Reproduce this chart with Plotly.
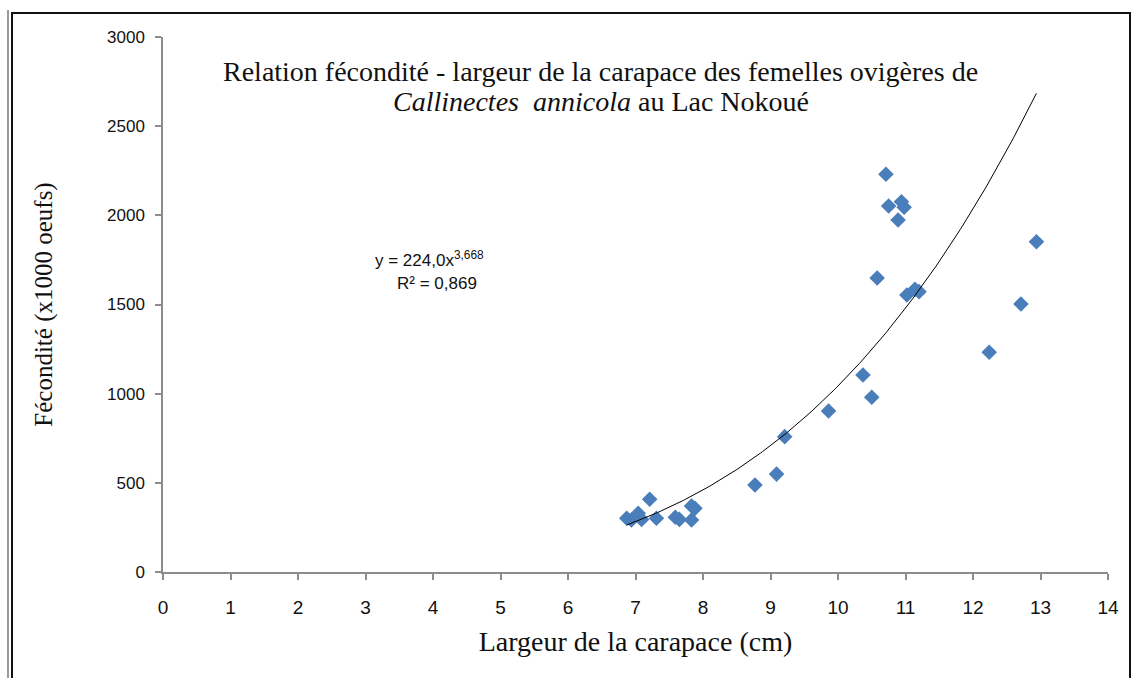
import numpy as np
import plotly.graph_objects as go

# Carapace width (cm) and fecundity (x1000 eggs) of ovigerous females
largeur = [6.87, 6.94, 7.04, 7.09, 7.21, 7.31, 7.59, 7.65, 7.83, 7.83, 7.88,
           8.77, 9.09, 9.21, 9.86, 10.37, 10.50,
           10.58, 10.71, 10.75, 10.89, 10.94, 10.98, 11.02, 11.14, 11.20,
           12.24, 12.71, 12.94]
fecondite = [301, 292, 329, 295, 408, 301, 307, 295, 292, 370, 357,
             488, 549, 759, 903, 1105, 980,
             1649, 2230, 2052, 1974, 2076, 2045, 1553, 1585, 1572,
             1232, 1503, 1852]

# Power trendline y = a * x^b (a in eggs, plotted in thousands of eggs)
coef_a = 224.0
expo_b = 3.668
r2 = 0.869
x_ticks = list(range(0, 15))
y_ticks = [0, 500, 1000, 1500, 2000, 2500, 3000]

xs = np.linspace(min(largeur), max(largeur), 200)
ys = coef_a * xs ** expo_b / 1000.0

SERIF = "Liberation Serif, Times New Roman, serif"
SANS = "Liberation Sans, Arial, sans-serif"
NARROW = "Liberation Sans Narrow, Liberation Sans, Arial, sans-serif"

fig = go.Figure()
fig.add_trace(go.Scatter(
    x=largeur, y=fecondite, mode="markers",
    marker=dict(symbol="diamond", size=12, color="#4A7EBB",
                line=dict(width=0)),
    showlegend=False, hoverinfo="x+y"))
fig.add_trace(go.Scatter(
    x=xs, y=ys, mode="lines", line=dict(color="#000000", width=1),
    showlegend=False, hoverinfo="skip"))

L, R, T, B = 163, 27, 37, 106
W, H = 1135, 678
pw, ph = W - L - R, H - T - B


def px(x):
    return (x - L) / pw


def py(y):
    return 1 - (y - T) / ph


eq_text = f"y = {coef_a:.1f}x<sup>{expo_b:.3f}</sup>".replace(".", ",")
r2_text = f"R² = {r2:.3f}".replace(".", ",")

fig.update_layout(
    width=W, height=H,
    margin=dict(l=L, r=R, t=T, b=B, pad=0),
    paper_bgcolor="white", plot_bgcolor="white",
    xaxis=dict(range=[0, 14], tickvals=x_ticks, showgrid=False,
               zeroline=False, showline=True, linecolor="#8C8C8C",
               linewidth=1.5, ticks="outside", ticklen=6,
               tickcolor="#8C8C8C", tickwidth=1.5,
               tickfont=dict(family=NARROW, size=19, color="#111111"),
               ticklabelstandoff=11,
               title=dict(text="Largeur de la carapace (cm)",
                          font=dict(family=SERIF, size=28, color="#111111"),
                          standoff=15)),
    yaxis=dict(range=[0, 3000], tickvals=y_ticks, showgrid=False,
               zeroline=False, showline=True, linecolor="#8C8C8C",
               linewidth=1.5, ticks="outside", ticklen=6,
               tickcolor="#8C8C8C", tickwidth=1.5,
               tickfont=dict(family=SANS, size=17, color="#111111"),
               ticklabelstandoff=7,
               title=dict(text="Fécondité (x1000 oeufs)",
                          font=dict(family=SERIF, size=25, color="#111111"),
                          standoff=47)),
    annotations=[
        dict(xref="paper", yref="paper", x=px(600), y=py(71),
             text="Relation fécondité - largeur de la carapace des femelles ovigères de",
             showarrow=False, xanchor="center", yanchor="middle",
             font=dict(family=SERIF, size=28, color="#111111")),
        dict(xref="paper", yref="paper", x=px(601), y=py(101),
             text="<i>Callinectes  annicola</i> au Lac Nokoué",
             showarrow=False, xanchor="center", yanchor="middle",
             font=dict(family=SERIF, size=28, color="#111111")),
        dict(xref="paper", yref="paper", x=px(429), y=py(259),
             text=eq_text,
             showarrow=False, xanchor="center", yanchor="middle",
             font=dict(family=SANS, size=17, color="#111111")),
        dict(xref="paper", yref="paper", x=px(437), y=py(283),
             text=r2_text,
             showarrow=False, xanchor="center", yanchor="middle",
             font=dict(family=SANS, size=17, color="#111111")),
    ],
    shapes=[
        dict(type="line", xref="paper", yref="paper",
             x0=px(8), x1=px(8), y0=py(10), y1=py(700),
             line=dict(color="#9A9A9A", width=2)),
        dict(type="rect", xref="paper", yref="paper",
             x0=px(12), x1=px(1130), y0=py(13), y1=py(700),
             line=dict(color="#111111", width=2)),
    ],
)

fig.write_html("out.html")
